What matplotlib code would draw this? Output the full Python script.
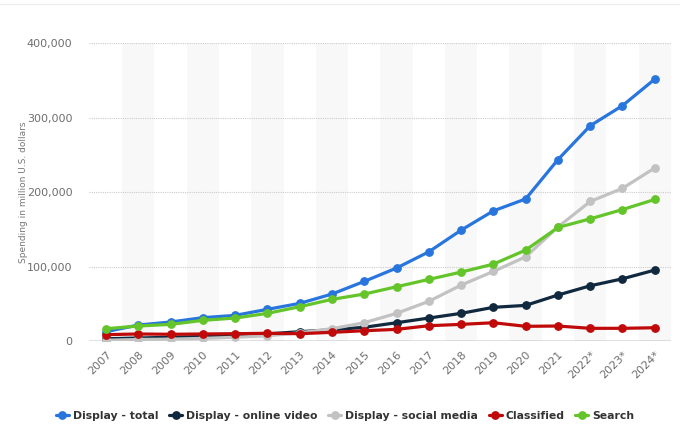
import matplotlib
matplotlib.use("Agg")
import matplotlib.pyplot as plt
from matplotlib.ticker import FuncFormatter

years = ["2007", "2008", "2009", "2010", "2011", "2012", "2013", "2014", "2015",
         "2016", "2017", "2018", "2019", "2020", "2021", "2022*", "2023*", "2024*"]

display_total = [12500, 21400, 25500, 31300, 34400, 42500, 50500, 63000, 80000,
                 97900, 119700, 148800, 174700, 190700, 243500, 289000, 316000, 351600]
online_video = [3000, 4000, 5000, 6000, 8000, 9500, 12500, 15000, 18400,
                24500, 30800, 37100, 45200, 47800, 61700, 74100, 83500, 95200]
social_media = [1000, 2000, 2500, 3500, 5000, 7000, 11000, 16500, 24500,
                37100, 53200, 75000, 93400, 113000, 153000, 187300, 205000, 232300]
classified = [8500, 9400, 9000, 9400, 9800, 10300, 9800, 11600, 13800,
              15600, 20500, 22300, 24500, 19700, 20100, 17000, 17000, 17800]
search = [16500, 20100, 22300, 27700, 30800, 37100, 46000, 55900, 63000,
          72800, 82700, 92500, 103200, 122000, 152400, 164000, 176500, 190000]

series = [
    ("Display - total", display_total, "#2876dd"),
    ("Display - online video", online_video, "#10293f"),
    ("Display - social media", social_media, "#c2c2c2"),
    ("Classified", classified, "#c00a0a"),
    ("Search", search, "#64c52a"),
]

fig = plt.figure(figsize=(6.86, 4.33), dpi=100)
ax = fig.add_axes([0.13, 0.2125, 0.848, 0.688])

x = list(range(len(years)))

# franjas de fondo alternas
for i in range(1, len(years), 2):
    ax.axvspan(i - 0.5, i + 0.5, color="#f8f8f8", zorder=0, lw=0)

for yv in [100000, 200000, 300000, 400000]:
    ax.axhline(yv, color="#cccccc", lw=0.8, ls=(0, (1, 1)), zorder=1)
ax.axhline(0, color="#707070", lw=1.0, zorder=2)

for name, vals, col in series:
    ax.plot(x, vals, color=col, lw=2.3, marker="o", markersize=5.3,
            label=name, zorder=3, solid_capstyle="round")

ax.set_xlim(-0.52, 17.5)
ax.set_ylim(0, 400000)
ax.set_yticks([0, 100000, 200000, 300000, 400000])
ax.yaxis.set_major_formatter(FuncFormatter(lambda v, p: f"{int(v):,}"))
ax.set_xticks(x)
ax.set_xticklabels(years, rotation=45, ha="right", rotation_mode="anchor")
ax.tick_params(axis="both", length=0, labelsize=8, colors="#6e6e6e")
ax.tick_params(axis="x", pad=6)
ax.tick_params(axis="y", pad=12)
for s in ax.spines.values():
    s.set_visible(False)

ax.set_ylabel("Spending in million U.S. dollars", fontsize=6.5, color="#777777")
ax.yaxis.set_label_coords(-0.105, 0.5)

fig.legend(loc="center", bbox_to_anchor=(0.503, 0.04), ncol=5, frameon=False,
           handlelength=1.2, handletextpad=0.35, columnspacing=1.0,
           prop={"weight": "bold", "size": 7.8}, labelcolor="#333333")

fig.add_artist(plt.Line2D([0, 0.99], [0.99, 0.99], color="#eeeeee", lw=1))

fig.savefig("out.png", dpi=100)
